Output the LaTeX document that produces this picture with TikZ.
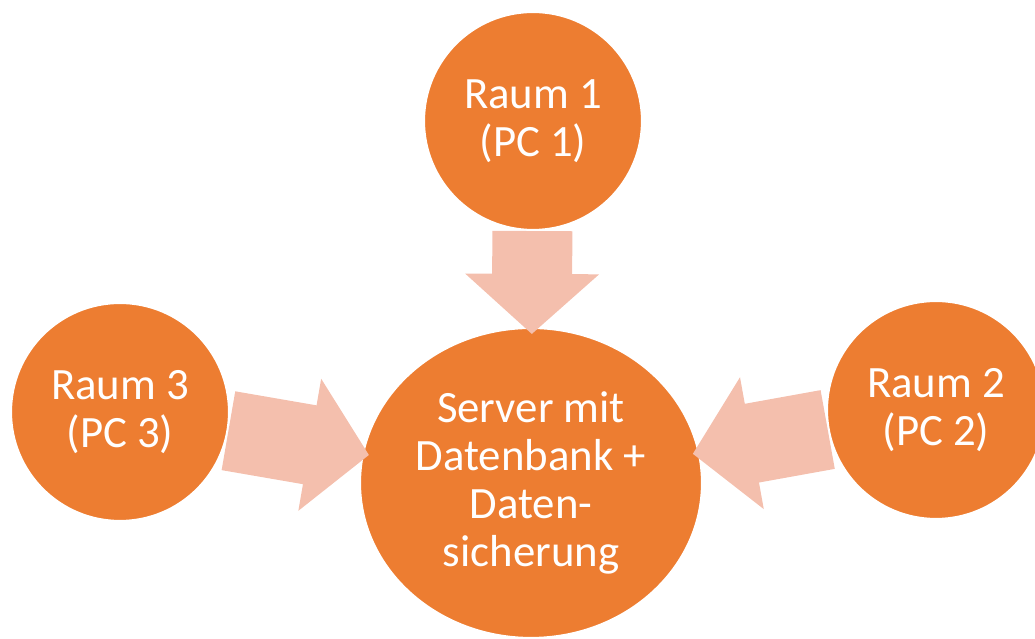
\documentclass[tikz,border=0pt]{standalone}
\usepackage{fontspec}
\setmainfont{Carlito}
\usetikzlibrary{calc, shapes.geometric}
\usepackage{xcolor}
\definecolor{xorange}{HTML}{ED7D31}
\definecolor{xsalmon}{HTML}{F4BFAD}
\tikzset{
	room/.style={circle, fill=xorange, draw=white, line width=0.6pt, minimum size=2.18cm, inner sep=0pt, align=center, text=white, font=\fontsize{12.75}{13.7}\selectfont},
	server/.style={ellipse, fill=xorange, draw=white, line width=0.6pt, minimum width=3.42cm, minimum height=3.10cm, inner sep=0pt, align=center, text=white, font=\fontsize{12.75}{13.7}\selectfont},
	flow/.style={fill=xsalmon},
}
% block arrow from one node border to the other
\newcommand{\flowarrow}[2]{%
	\path (#1) -- (#2) coordinate[pos=0] (#1-s) coordinate[pos=1] (#1-e);
	\coordinate (#1-t) at ($(#1-e)!-0.07cm!(#1-s)$);
	\coordinate (#1-b) at ($(#1-t)!0.6cm!(#1-s)$);
	\fill[flow] ($(#1-s)!0.4cm!90:(#1-t)$) -- ($(#1-b)!0.4cm!90:(#1-t)$) -- ($(#1-b)!0.67cm!90:(#1-t)$)
		-- (#1-t) -- ($(#1-b)!0.67cm!-90:(#1-t)$) -- ($(#1-b)!0.4cm!-90:(#1-t)$) -- ($(#1-s)!0.4cm!-90:(#1-t)$) -- cycle;
}

\begin{document}
\begin{tikzpicture}
	\useasboundingbox (0,0) rectangle (10.35,-6.39);

	% Server
	\node[server] (srv) at (5.31,-4.83) {Server mit\\Datenbank +\\Daten-\\sicherung};

	% Rooms
	\node[room] (r1) at (5.33,-1.21) {Raum 1\\(PC 1)};
	\node[room] (r2) at (9.36,-4.10) {Raum 2\\(PC 2)};
	\node[room] (r3) at (1.20,-4.12) {Raum 3\\(PC 3)};

	% Arrows
	\flowarrow{r1}{srv}
	\flowarrow{r2}{srv}
	\flowarrow{r3}{srv}
\end{tikzpicture}
\end{document}
